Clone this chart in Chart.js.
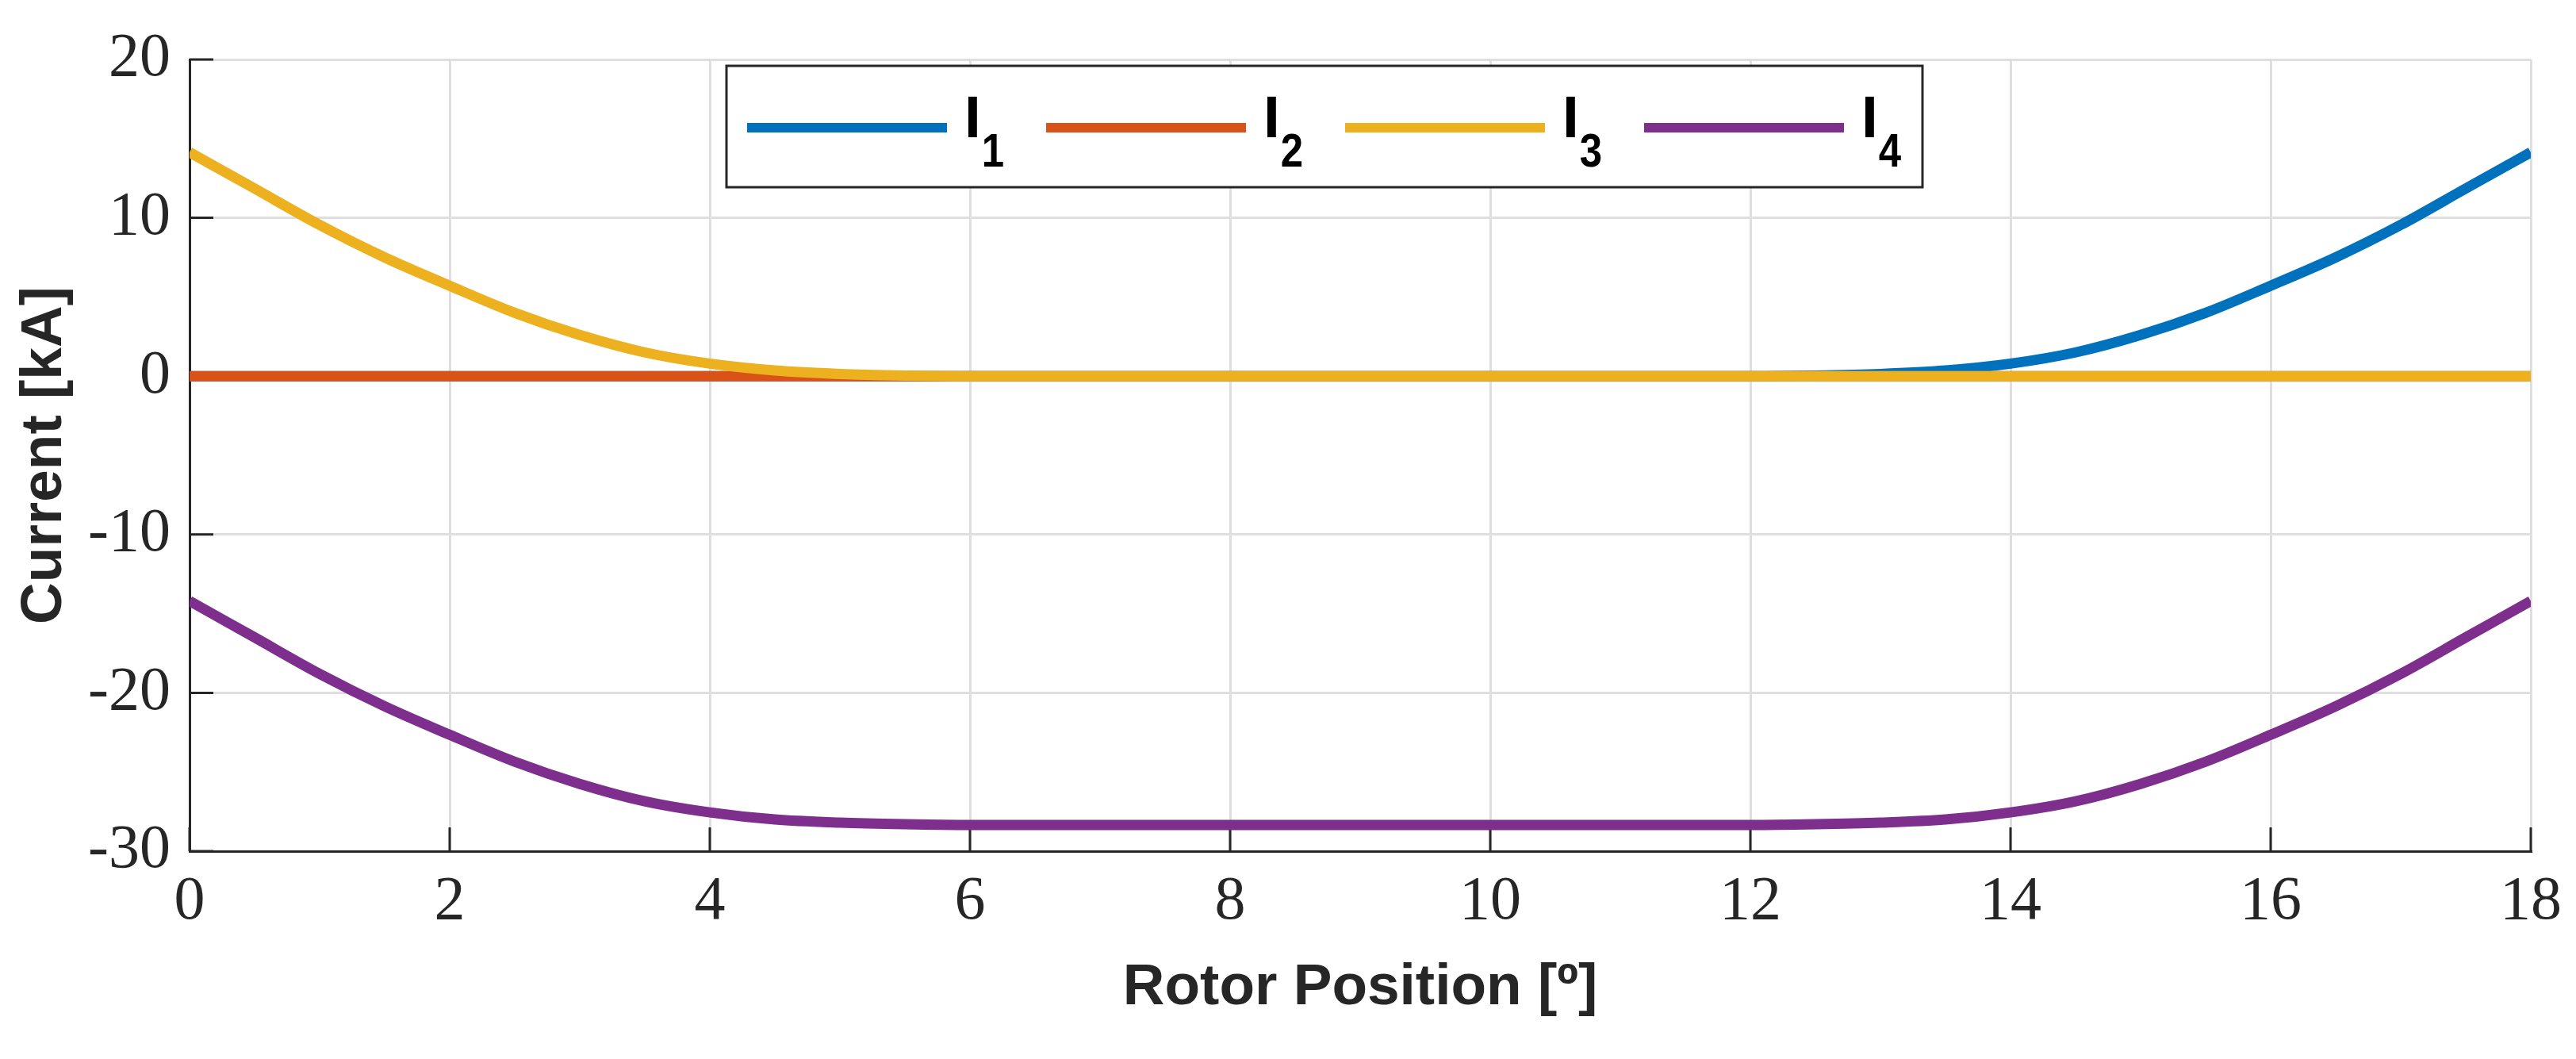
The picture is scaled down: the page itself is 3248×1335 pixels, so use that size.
<!DOCTYPE html>
<html>
<head>
<meta charset="utf-8">
<title>Rotor currents</title>
<script src="https://cdn.jsdelivr.net/npm/chart.js@4.4.1/dist/chart.umd.min.js"></script>
<style>
  html, body { margin: 0; padding: 0; background: #ffffff; }
  #wrap { width: 3248px; height: 1335px; position: relative; }
</style>
</head>
<body>
<div id="wrap"><canvas id="currentChart"></canvas></div>
<script>
// Rotor position in degrees (x axis)
const rotorPosition = [0, 0.5, 1, 1.5, 2, 2.5, 3, 3.5, 4, 4.5, 5, 5.5, 6, 6.5, 7, 7.5, 8, 8.5, 9,
  9.5, 10, 10.5, 11, 11.5, 12, 12.5, 13, 13.5, 14, 14.5, 15, 15.5, 16, 16.5, 17, 17.5, 18];

// Currents in kA
const i1 = [0, 0, 0, 0, 0, 0, 0, 0, 0, 0, 0, 0, 0, 0, 0, 0, 0, 0, 0,
  0, 0, 0, 0, 0, 0, 0.04, 0.14, 0.36, 0.79, 1.5, 2.6, 4.0, 5.71, 7.5, 9.55, 11.85, 14.14];
const i2 = [0, 0, 0, 0, 0, 0, 0, 0, 0, 0, 0, 0, 0, 0, 0, 0, 0, 0, 0,
  0, 0, 0, 0, 0, 0, 0, 0, 0, 0, 0, 0, 0, 0, 0, 0, 0, 0];
const i3 = [14.14, 11.85, 9.55, 7.5, 5.71, 4.0, 2.6, 1.5, 0.79, 0.36, 0.14, 0.04, 0, 0, 0, 0, 0, 0, 0,
  0, 0, 0, 0, 0, 0, 0, 0, 0, 0, 0, 0, 0, 0, 0, 0, 0, 0];
const i4 = [-14.2, -16.5, -18.8, -20.85, -22.65, -24.35, -25.75, -26.85, -27.55, -28.0, -28.2, -28.3,
  -28.35, -28.35, -28.35, -28.35, -28.35, -28.35, -28.35, -28.35, -28.35, -28.35, -28.35, -28.35, -28.35,
  -28.3, -28.2, -28.0, -27.55, -26.85, -25.75, -24.35, -22.65, -20.85, -18.8, -16.5, -14.2];

const seriesNames = ['I1', 'I2', 'I3', 'I4'];
const seriesColors = ['#0072BD', '#D95319', '#EDB120', '#7E2F8E'];

// Axis ticks
const xTicks = [0, 2, 4, 6, 8, 10, 12, 14, 16, 18];
const yTicks = [-30, -20, -10, 0, 10, 20];

const axisColor = '#262626';
const gridColor = '#dfdfdf';

function toPoints(values) {
  return rotorPosition.map((x, i) => ({ x: x, y: values[i] }));
}

const seriesValues = [i1, i2, i3, i4];
const datasets = seriesValues.map((values, i) => ({
  label: seriesNames[i],
  data: toPoints(values),
  borderColor: seriesColors[i],
  backgroundColor: seriesColors[i],
  borderWidth: 13,
  pointRadius: 0,
  cubicInterpolationMode: 'monotone',
  borderJoinStyle: 'round',
  fill: false,
  order: seriesValues.length - i   // later series drawn on top, like MATLAB
}));

// Inward tick marks on the left and bottom axes
const inwardTicks = {
  id: 'inwardTicks',
  beforeDatasetsDraw(chart) {
    const { ctx, chartArea, scales } = chart;
    ctx.save();
    ctx.strokeStyle = axisColor;
    ctx.lineWidth = 3;
    ctx.beginPath();
    scales.x.ticks.forEach(t => {
      const px = scales.x.getPixelForValue(t.value);
      ctx.moveTo(px, chartArea.bottom);
      ctx.lineTo(px, chartArea.bottom - 30);
    });
    scales.y.ticks.forEach(t => {
      const py = scales.y.getPixelForValue(t.value);
      ctx.moveTo(chartArea.left, py);
      ctx.lineTo(chartArea.left + 30, py);
    });
    ctx.stroke();
    ctx.restore();
  }
};

// Boxed horizontal legend with subscripted labels
const boxedLegend = {
  id: 'boxedLegend',
  afterDraw(chart) {
    const { ctx, chartArea } = chart;
    const boxLeft = chartArea.left + 677;
    const boxTop = chartArea.top + 8;
    const boxW = 1508;
    const boxH = 153;
    ctx.save();
    ctx.fillStyle = '#ffffff';
    ctx.fillRect(boxLeft, boxTop, boxW, boxH);
    ctx.strokeStyle = axisColor;
    ctx.lineWidth = 3;
    ctx.strokeRect(boxLeft, boxTop, boxW, boxH);

    const lineY = boxTop + 78;
    chart.data.datasets.forEach((ds, i) => {
      const x0 = boxLeft + 26 + i * 377;
      ctx.strokeStyle = ds.borderColor;
      ctx.lineWidth = 12;
      ctx.lineCap = 'butt';
      ctx.beginPath();
      ctx.moveTo(x0, lineY);
      ctx.lineTo(x0 + 252, lineY);
      ctx.stroke();

      const main = ds.label.charAt(0);
      const sub = ds.label.slice(1);
      ctx.fillStyle = '#000000';
      ctx.textBaseline = 'alphabetic';
      ctx.textAlign = 'left';
      ctx.font = 'bold 75px "Liberation Sans", Arial, sans-serif';
      const tx = x0 + 252 + 22;
      ctx.fillText(main, tx, boxTop + 90);
      const mw = ctx.measureText(main).width;
      // narrower subscript digits, as in the original
      ctx.font = 'bold 60px "Liberation Sans Narrow", "Liberation Sans", Arial, sans-serif';
      ctx.save();
      ctx.translate(tx + mw + 1, boxTop + 127);
      ctx.scale(0.85, 1);
      ctx.fillText(sub, 0, 0);
      ctx.restore();
    });
    ctx.restore();
  }
};

const ctx = document.getElementById('currentChart').getContext('2d');

const currentChart = new Chart(ctx, {
  type: 'line',
  data: { datasets: datasets },
  plugins: [inwardTicks, boxedLegend],
  options: {
    responsive: true,
    maintainAspectRatio: false,
    animation: false,
    devicePixelRatio: 1,
    layout: { padding: { top: 75, right: 57, left: 0, bottom: 0 } },
    plugins: {
      legend: { display: false },
      tooltip: { enabled: false }
    },
    scales: {
      x: {
        type: 'linear',
        min: 0,
        max: 18,
        afterBuildTicks: (scale) => { scale.ticks = xTicks.map(v => ({ value: v })); },
        afterFit: (scale) => { scale.height = 262; },
        grid: { color: gridColor, lineWidth: 3, drawTicks: false },
        border: { display: true, color: axisColor, width: 3 },
        ticks: {
          color: axisColor,
          padding: 18,
          maxRotation: 0,
          font: { family: '"Liberation Serif", "Times New Roman", serif', size: 78 }
        },
        title: {
          display: true,
          text: 'Rotor Position [º]',
          color: axisColor,
          padding: { top: 0, bottom: 45 },
          font: { family: '"Liberation Sans", Arial, sans-serif', size: 73, weight: 'bold' }
        }
      },
      y: {
        min: -30,
        max: 20,
        afterBuildTicks: (scale) => { scale.ticks = yTicks.map(v => ({ value: v })); },
        afterFit: (scale) => { scale.width = 239; },
        grid: { color: gridColor, lineWidth: 3, drawTicks: false },
        border: { display: true, color: axisColor, width: 3 },
        ticks: {
          color: axisColor,
          padding: 24,
          font: { family: '"Liberation Serif", "Times New Roman", serif', size: 78 }
        },
        title: {
          display: true,
          text: 'Current [kA]',
          color: axisColor,
          padding: { top: 13, bottom: 0 },
          font: { family: '"Liberation Sans", Arial, sans-serif', size: 73, weight: 'bold' }
        }
      }
    }
  }
});
</script>
</body>
</html>
